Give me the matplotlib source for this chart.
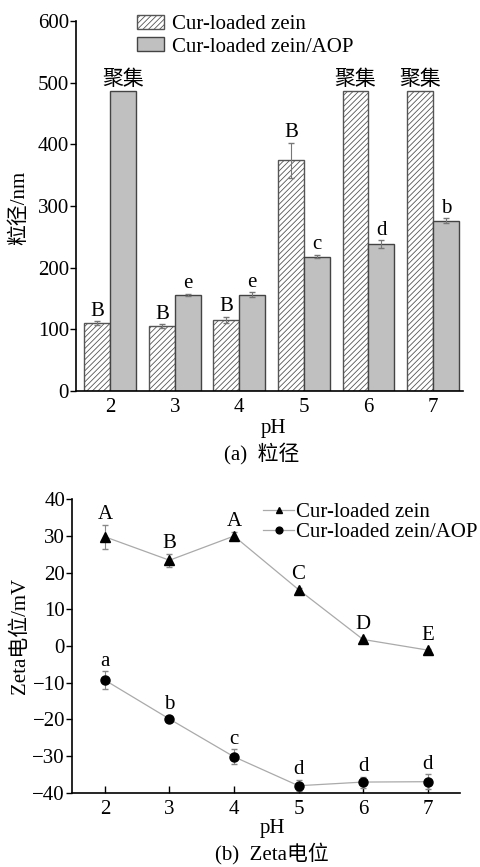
import numpy as np
import matplotlib.pyplot as plt

plt.rcParams['font.family'] = ['Liberation Serif', 'Noto Sans CJK SC']
plt.rcParams['font.size'] = 15
plt.rcParams['hatch.color'] = '#888888'
plt.rcParams['hatch.linewidth'] = 0.6

# particle size data
ph = np.array([2, 3, 4, 5, 6, 7])
size_zein = [110, 105, 115, 374, 487, 487]
size_zein_err = [3, 3, 5, 28, 0, 0]
size_aop = [487, 156, 156, 218, 238, 276]
size_aop_err = [0, 2, 4, 3, 6, 4]
lab_zein = ['B', 'B', 'B', 'B', '聚集', '聚集']
lab_aop = ['聚集', 'e', 'e', 'c', 'd', 'b']

# zeta potential data
zeta_zein = [29.8, 23.4, 30.0, 15.4, 1.8, -1.1]
zeta_zein_err = [3.2, 1.8, 1.0, 0.5, 0.5, 0.3]
zeta_aop = [-9.3, -19.9, -30.2, -38.1, -37.1, -37.0]
zeta_aop_err = [2.4, 0.5, 2.0, 1.5, 1.5, 2.0]
zlab_zein = ['A', 'B', 'A', 'C', 'D', 'E']
zlab_aop = ['a', 'b', 'c', 'd', 'd', 'd']

fig = plt.figure(figsize=(4.81, 8.67), dpi=100)

# (a) particle size
ax1 = fig.add_axes([0.158, 0.549, 0.805, 0.427])
w = 0.4
ax1.bar(ph - w / 2, size_zein, w, color='white', edgecolor='#555555',
        hatch='//////', linewidth=1, label='Cur-loaded zein')
ax1.bar(ph + w / 2, size_aop, w, color='#c0c0c0', edgecolor='#444444',
        linewidth=1, label='Cur-loaded zein/AOP')
for xs, ys, es in [(ph - w / 2, size_zein, size_zein_err), (ph + w / 2, size_aop, size_aop_err)]:
    for x, y, e in zip(xs, ys, es):
        if e > 0:
            ax1.errorbar(x, y, yerr=e, fmt='none', ecolor='#777777', elinewidth=0.8, capsize=2.5)
for x, y, e, t in zip(ph - w / 2, size_zein, size_zein_err, lab_zein):
    ax1.text(x, y + e + 1, t, ha='center', va='bottom')
for x, y, e, t in zip(ph + w / 2, size_aop, size_aop_err, lab_aop):
    ax1.text(x, y + e + 1, t, ha='center', va='bottom')

ax1.set_xlim(1.47, 7.47)
ax1.set_ylim(0, 600)
ax1.set_xticks(ph)
ax1.set_yticks(range(0, 601, 100))
ax1.spines['top'].set_visible(False)
ax1.spines['right'].set_visible(False)
ax1.spines['left'].set_linewidth(1.2)
ax1.spines['bottom'].set_linewidth(1.2)
ax1.tick_params(axis='y', direction='out', length=4, width=1, pad=1)
ax1.tick_params(axis='x', direction='out', length=0, pad=5)
ax1.legend(loc='upper left', bbox_to_anchor=(0.12, 1.055), frameon=False,
           handlelength=1.3, handleheight=0.65, handletextpad=0.4,
           labelspacing=0.15, borderpad=0.2)
fig.text(20 / 481, 1 - 208 / 867, '粒径/nm', rotation=90, ha='center', va='center')
fig.text(273 / 481, 1 - 429 / 867, 'pH', ha='center', va='center')
fig.text(262 / 481, 1 - 454 / 867, '(a)  粒径', ha='center', va='center')

# (b) zeta potential
ax2 = fig.add_axes([0.1497, 0.0857, 0.8063, 0.3383])
ax2.errorbar(ph, zeta_zein, yerr=zeta_zein_err, fmt='none', ecolor='#888888',
             elinewidth=0.8, capsize=2.5)
ax2.errorbar(ph, zeta_aop, yerr=zeta_aop_err, fmt='none', ecolor='#888888',
             elinewidth=0.8, capsize=2.5)
ax2.plot(ph, zeta_zein, color='#aaaaaa', lw=0.9, marker='^', ms=6.5,
         mfc='black', mec='black', label='Cur-loaded zein')
ax2.plot(ph, zeta_aop, color='#aaaaaa', lw=0.9, marker='o', ms=6.5,
         mfc='black', mec='black', label='Cur-loaded zein/AOP')
for x, y, e, t in zip(ph, zeta_zein, zeta_zein_err, zlab_zein):
    ax2.text(x, y + max(e, 1.2) + 0.2, t, ha='center', va='bottom')
for x, y, e, t in zip(ph, zeta_aop, zeta_aop_err, zlab_aop):
    ax2.text(x, y + max(e, 1.2) + 0.2, t, ha='center', va='bottom')

ax2.set_xlim(1.49, 7.5)
ax2.set_ylim(-40, 40)
ax2.set_xticks(ph)
ax2.set_yticks(range(-40, 41, 10))
ax2.spines['top'].set_visible(False)
ax2.spines['right'].set_visible(False)
ax2.spines['left'].set_linewidth(1.2)
ax2.spines['bottom'].set_linewidth(1.2)
ax2.tick_params(axis='y', direction='out', length=4, width=1, pad=1)
ax2.tick_params(axis='x', direction='in', length=5, width=1, pad=5)
ax2.legend(loc='upper left', bbox_to_anchor=(0.455, 1.04), frameon=False,
           handlelength=1.5, handletextpad=0.1, labelspacing=0.05,
           borderpad=0.2, markerscale=0.75)
fig.text(20 / 481, 1 - 636 / 867, 'Zeta电位/mV', rotation=90, ha='center', va='center')
fig.text(272 / 481, 1 - 828 / 867, 'pH', ha='center', va='center')
fig.text(272 / 481, 1 - 853 / 867, '(b)  Zeta电位', ha='center', va='center')

fig.savefig('out.png', dpi=100)
